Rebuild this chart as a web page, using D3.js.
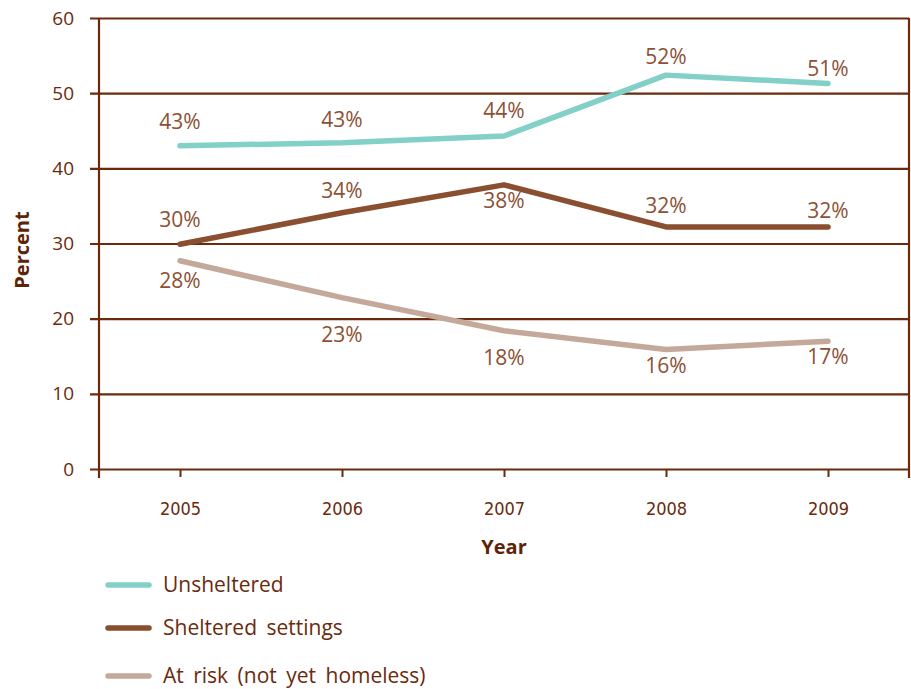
<!DOCTYPE html>
<html>
<head>
<meta charset="utf-8">
<script src="https://cdn.jsdelivr.net/npm/d3@7"></script>
<style>
  html, body { margin: 0; padding: 0; background: #ffffff; }
  svg { display: block; }
  text { font-family: "Open Sans", "DejaVu Sans", sans-serif; }
</style>
</head>
<body>
<svg id="chart" width="911" height="689"></svg>
<script>
// Share of people by housing situation, 2005–2009
const years = ["2005", "2006", "2007", "2008", "2009"];
const seriesNames = ["Unsheltered", "Sheltered settings", "At risk (not yet homeless)"];
const unsheltered = [43.0, 43.4, 44.3, 52.4, 51.3];
const sheltered = [29.9, 34.1, 37.8, 32.2, 32.2];
const atRisk = [27.7, 22.8, 18.4, 15.9, 17.0];
const yTicks = [0, 10, 20, 30, 40, 50, 60];

const colors = ["#82d0c8", "#8a4e30", "#c4a99b"];
// where each value label sits relative to its point (pixels, negative = above)
const labelDy = [
  [-24, -23, -25, -18, -15],
  [-25, -22, 16, -21, -16],
  [20, 37, 27, 16, 15]
];

const svg = d3.select("#chart");
const axisColor = "#6b2a0c";
const textColor = "#6b2a0c";
const labelColor = "#8c5134";

const plotLeft = 99, plotRight = 909, plotTop = 18, plotBottom = 469;

const x = d3.scalePoint().domain(years).range([plotLeft, plotRight]).padding(0.5);
const y = d3.scaleLinear().domain([0, 60]).range([plotBottom, plotTop]);

// horizontal gridlines with left ticks
const yAxis = d3.axisLeft(y).tickValues(yTicks).tickSize(-(plotRight - plotLeft)).tickPadding(25);
const gy = svg.append("g").attr("transform", `translate(${plotLeft},0)`).call(yAxis);
gy.select(".domain").remove();
gy.selectAll(".tick line").attr("x1", -9).attr("stroke", axisColor).attr("stroke-width", 2.2);
gy.selectAll(".tick text").attr("fill", textColor).style("font-size", "19px");

// left axis line and right border
svg.append("line").attr("x1", plotLeft).attr("x2", plotLeft).attr("y1", plotTop).attr("y2", plotBottom + 9)
  .attr("stroke", axisColor).attr("stroke-width", 2.2);
svg.append("line").attr("x1", plotRight).attr("x2", plotRight).attr("y1", plotTop).attr("y2", plotBottom + 9)
  .attr("stroke", axisColor).attr("stroke-width", 2.2);

// bottom axis
const xAxis = d3.axisBottom(x).tickSize(8).tickPadding(25);
const gx = svg.append("g").attr("transform", `translate(0,${plotBottom})`).call(xAxis);
gx.select(".domain").remove();
gx.selectAll(".tick line").attr("stroke", axisColor).attr("stroke-width", 2);
gx.selectAll(".tick text").attr("fill", textColor)
  .style("font-size", "18px").style("font-family", "'DejaVu Sans Condensed', 'Open Sans', sans-serif")
  .style("font-weight", "normal");

// axis titles
svg.append("text").attr("transform", `translate(29,250) rotate(-90)`)
  .attr("text-anchor", "middle").attr("fill", "#5e2408")
  .style("font-size", "20px").style("font-weight", "bold")
  .text("Percent");
svg.append("text").attr("x", (plotLeft + plotRight) / 2).attr("y", 554)
  .attr("text-anchor", "middle").attr("fill", "#5e2408")
  .style("font-size", "20px").style("font-weight", "bold")
  .text("Year");

// lines and value labels
const allSeries = [unsheltered, sheltered, atRisk];
const line = d3.line().x((d, i) => x(years[i])).y(d => y(d));

allSeries.forEach((vals, s) => {
  svg.append("path").datum(vals)
    .attr("d", line)
    .attr("fill", "none")
    .attr("stroke", colors[s])
    .attr("stroke-width", 5.5)
    .attr("stroke-linecap", "round")
    .attr("stroke-linejoin", "round");
});

allSeries.forEach((vals, s) => {
  svg.append("g").selectAll("text").data(vals).join("text")
    .attr("x", (d, i) => x(years[i]))
    .attr("y", (d, i) => y(d) + labelDy[s][i])
    .attr("dy", "0.35em")
    .attr("text-anchor", "middle")
    .attr("fill", labelColor)
    .style("font-size", "21px")
    .text(d => Math.round(d) + "%");
});

// legend
const legendY = [585, 628, 676];
const legend = svg.append("g");
seriesNames.forEach((name, s) => {
  legend.append("line").attr("x1", 108).attr("x2", 149)
    .attr("y1", legendY[s]).attr("y2", legendY[s])
    .attr("stroke", colors[s]).attr("stroke-width", 5.5).attr("stroke-linecap", "round");
  legend.append("text").attr("x", 163).attr("y", legendY[s]).attr("dy", "0.35em")
    .attr("fill", textColor).style("font-size", "21px").style("word-spacing", "4px").text(name);
});
</script>
</body>
</html>
